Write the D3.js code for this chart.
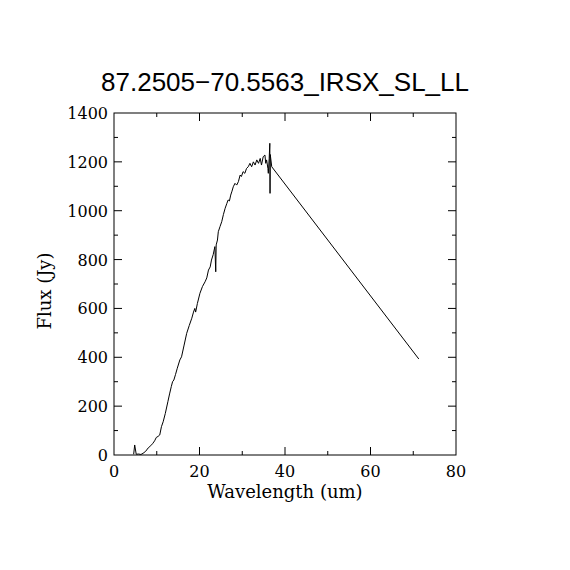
<!DOCTYPE html>
<html>
<head>
<meta charset="utf-8">
<script src="https://cdn.jsdelivr.net/npm/d3@7"></script>
<style>
  body { margin: 0; background: #fff; }
  text { fill: #000; }
</style>
</head>
<body>
<script>
// spectrum: wavelength (um) and flux (Jy)
var wavelength = [4.6, 4.84, 5.2, 5.8, 6.3, 6.8, 7.4, 8.0, 8.6, 9.1, 9.5, 9.9, 10.3, 10.7, 11.1, 11.5, 12.0,
  12.6, 13.0, 13.4, 13.7, 14.0, 14.4, 14.8, 15.4, 15.8, 16.4, 17.0, 17.6, 18.2, 18.6, 18.9, 19.1, 19.5, 20.1,
  20.7, 21.3, 21.7, 22.1, 22.5, 22.8, 23.2, 23.6, 23.8, 23.9, 24.2, 24.4, 24.8, 25.2, 25.6, 26.0, 26.4, 26.7,
  27.0, 27.3, 27.6, 27.9, 28.3, 28.7, 29.1, 29.5, 29.8, 30.2, 30.6, 31.0, 31.4, 31.8, 32.2, 32.6, 33.0, 33.4,
  33.8, 34.2, 34.5, 34.9, 35.3, 35.5, 35.7, 36.0, 36.1, 36.3, 36.45, 36.5, 36.55, 36.9, 71.3];
var flux = [3, 41, 3, 4, 2, 7, 15, 29, 38, 48, 58, 72, 76, 82, 116, 136, 170,
  218, 250, 280, 300, 307, 330, 355, 389, 402, 450, 498, 530, 560, 585, 600, 585, 620, 662,
  690, 709, 725, 757, 770, 798, 820, 853, 750, 860, 880, 914, 935, 955, 985, 1010, 1030, 1044,
  1040, 1064, 1080, 1098, 1112, 1105, 1119, 1146, 1140, 1160, 1153, 1173, 1180, 1194, 1180, 1200, 1187, 1208,
  1194, 1214, 1187, 1221, 1228, 1194, 1208, 1173, 1153, 1214, 1276, 1071, 1230, 1180, 393];

var xTicks = [0, 20, 40, 60, 80];
var yTicks = [0, 200, 400, 600, 800, 1000, 1200, 1400];
var xMinor = [10, 30, 50, 70];
var yMinor = [100, 300, 500, 700, 900, 1100, 1300];

var title = "87.2505\u221270.5563_IRSX_SL_LL";
var xLabel = "Wavelength (um)";
var yLabel = "Flux (Jy)";

var W = 570, H = 570;
var pLeft = 114, pRight = 456, pTop = 113, pBottom = 455;
var font = "'DejaVu Serif', 'Liberation Serif', serif";

var svg = d3.select("body").append("svg")
  .attr("width", W)
  .attr("height", H);

var x = d3.scaleLinear().domain([0, 80]).range([pLeft, pRight]);
var y = d3.scaleLinear().domain([0, 1400]).range([pBottom, pTop]);

// frame
svg.append("rect")
  .attr("x", pLeft).attr("y", pTop)
  .attr("width", pRight - pLeft).attr("height", pBottom - pTop)
  .attr("fill", "none").attr("stroke", "#000").attr("stroke-width", 1);

// inward ticks on all four sides
function xticks(vals, len) {
  vals.forEach(function (v) {
    svg.append("line").attr("x1", x(v)).attr("x2", x(v)).attr("y1", pBottom).attr("y2", pBottom - len).attr("stroke", "#000");
    svg.append("line").attr("x1", x(v)).attr("x2", x(v)).attr("y1", pTop).attr("y2", pTop + len).attr("stroke", "#000");
  });
}
function yticks(vals, len) {
  vals.forEach(function (v) {
    svg.append("line").attr("y1", y(v)).attr("y2", y(v)).attr("x1", pLeft).attr("x2", pLeft + len).attr("stroke", "#000");
    svg.append("line").attr("y1", y(v)).attr("y2", y(v)).attr("x1", pRight).attr("x2", pRight - len).attr("stroke", "#000");
  });
}
xticks(xTicks.slice(1, -1), 8);
xticks(xMinor, 4);
yticks(yTicks.slice(1, -1), 8);
yticks(yMinor, 4);

// tick labels
svg.selectAll(".xl").data(xTicks).enter().append("text")
  .attr("x", function (d) { return x(d); })
  .attr("y", 477)
  .attr("text-anchor", "middle")
  .style("font-family", font).style("font-size", "16px")
  .text(function (d) { return d; });

svg.selectAll(".yl").data(yTicks).enter().append("text")
  .attr("x", 108)
  .attr("y", function (d) { return y(d) + 6; })
  .attr("text-anchor", "end")
  .style("font-family", font).style("font-size", "16px")
  .text(function (d) { return d; });

// axis titles
svg.append("text")
  .attr("x", 285).attr("y", 498)
  .attr("text-anchor", "middle")
  .style("font-family", font).style("font-size", "18px")
  .text(xLabel);

svg.append("text")
  .attr("transform", "translate(51,291)rotate(-90)")
  .attr("text-anchor", "middle")
  .style("font-family", font).style("font-size", "18px")
  .text(yLabel);

svg.append("text")
  .attr("x", 285).attr("y", 91)
  .attr("text-anchor", "middle")
  .style("font-family", "'Liberation Sans', sans-serif").style("font-size", "26px")
  .text(title);

// the spectrum
var pts = wavelength.map(function (w, i) { return [w, flux[i]]; });
var line = d3.line()
  .x(function (d) { return x(d[0]); })
  .y(function (d) { return y(d[1]); });

svg.append("path")
  .attr("d", line(pts))
  .attr("fill", "none")
  .attr("stroke", "#000")
  .attr("stroke-width", 1);
</script>
</body>
</html>
